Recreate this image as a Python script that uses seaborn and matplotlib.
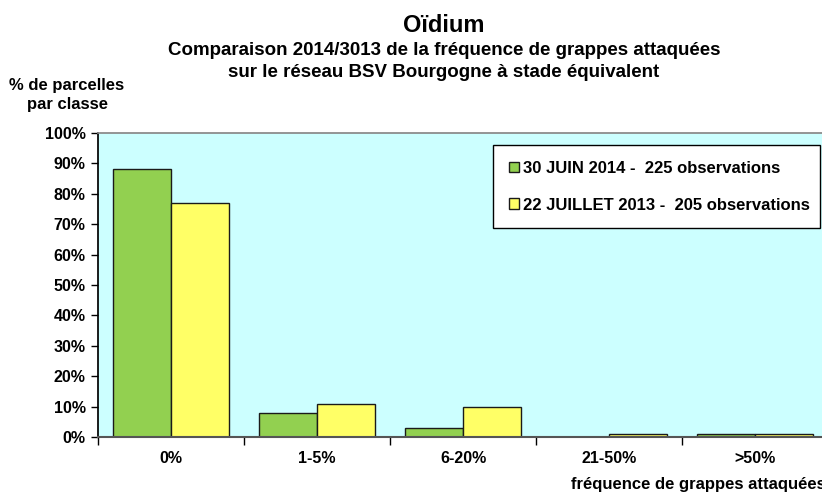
# Oïdium - comparaison 2014/2013
#
# python plot.py

import matplotlib.pyplot as plt
import pandas as pd
import seaborn as sns
from matplotlib.ticker import FixedLocator, PercentFormatter


classes = ["0%", "1-5%", "6-20%", "21-50%", ">50%"]
series_names = [
    "30 JUIN 2014 -  225 observations",
    "22 JUILLET 2013 -  205 observations",
]
values_2014 = [88, 8, 3, 0, 1]
values_2013 = [77, 11, 10, 1, 1]
y_ticks = [0, 10, 20, 30, 40, 50, 60, 70, 80, 90, 100]

colors = ["#92D050", "#FFFF66"]

df = pd.DataFrame(
    {
        "classe": classes * 2,
        "serie": [series_names[0]] * len(classes) + [series_names[1]] * len(classes),
        "valeur": values_2014 + values_2013,
    }
)

W, H = 822, 493

sns.set_theme(style="white")
plt.rcParams["font.family"] = ["Liberation Sans", "DejaVu Sans"]
plt.rcParams["font.weight"] = "bold"
plt.rcParams["text.color"] = "black"
plt.rcParams["xtick.color"] = "black"
plt.rcParams["ytick.color"] = "black"

fig = plt.figure(figsize=(W / 100, H / 100), dpi=100)
# plot area runs past the right edge of the picture, as in the original
ax = fig.add_axes([98 / W, (H - 437) / H, 730 / W, 304 / H])
ax.set_facecolor("#CCFFFF")

sns.barplot(
    data=df,
    x="classe",
    y="valeur",
    hue="serie",
    order=classes,
    hue_order=series_names,
    palette=colors,
    width=0.8,
    edgecolor="#1a1a1a",
    linewidth=1,
    saturation=1,
    ax=ax,
)

ax.set_xlim(-0.5, len(classes) - 0.5)
ax.set_ylim(0, 100)
ax.yaxis.set_major_locator(FixedLocator(y_ticks))
ax.yaxis.set_major_formatter(PercentFormatter(decimals=0))
ax.tick_params(axis="y", which="major", left=True, length=5, width=1,
               labelsize=11.5, pad=4)
ax.tick_params(axis="x", which="major", bottom=False, length=0, labelsize=11.5, pad=10)
ax.xaxis.set_minor_locator(FixedLocator([i - 0.5 for i in range(len(classes) + 1)]))
ax.tick_params(axis="x", which="minor", bottom=True, length=6, width=1)
for lab in ax.get_xticklabels() + ax.get_yticklabels():
    lab.set_fontweight("bold")
    lab.set_color("black")

ax.set_xlabel("")
ax.set_ylabel("")
for side in ["left", "right", "top", "bottom"]:
    ax.spines[side].set_visible(True)
ax.spines["left"].set_color("black")
ax.spines["bottom"].set_color("#555555")
ax.spines["bottom"].set_linewidth(1.5)
ax.spines["top"].set_color("#888888")
ax.spines["right"].set_color("#888888")

leg = ax.legend(
    loc="upper left",
    bbox_to_anchor=(493 / W, 1 - 145 / H, (820 - 493) / W, 0),
    bbox_transform=fig.transFigure,
    mode="expand",
    frameon=True,
    fancybox=False,
    edgecolor="black",
    facecolor="white",
    framealpha=1,
    prop={"size": 12, "weight": "bold"},
    handlelength=0.6,
    handleheight=0.6,
    handletextpad=0.25,
    labelspacing=1.3,
    borderpad=0.95,
    borderaxespad=0,
)
leg.get_frame().set_linewidth(1)
for t in leg.get_texts():
    t.set_color("black")

fig.text(444 / W, 1 - 32 / H, "Oïdium", ha="center", va="baseline",
         fontsize=17, fontweight="bold")
fig.text(444 / W, 1 - 55 / H, "Comparaison 2014/3013 de la fréquence de grappes attaquées",
         ha="center", va="baseline", fontsize=13.5, fontweight="bold")
fig.text(444 / W, 1 - 77 / H, "sur le réseau BSV Bourgogne à stade équivalent",
         ha="center", va="baseline", fontsize=13.5, fontweight="bold")
fig.text(67 / W, 1 - 90 / H, "% de parcelles", ha="center", va="baseline",
         fontsize=12, fontweight="bold")
fig.text(67 / W, 1 - 109 / H, "par classe", ha="center", va="baseline",
         fontsize=12, fontweight="bold")
# the axis title is cut by the right edge in the original too
fig.text(571 / W, 1 - 489 / H, "fréquence de grappes attaquées", ha="left", va="baseline",
         fontsize=12, fontweight="bold")

fig.savefig("out.png", dpi=100)
